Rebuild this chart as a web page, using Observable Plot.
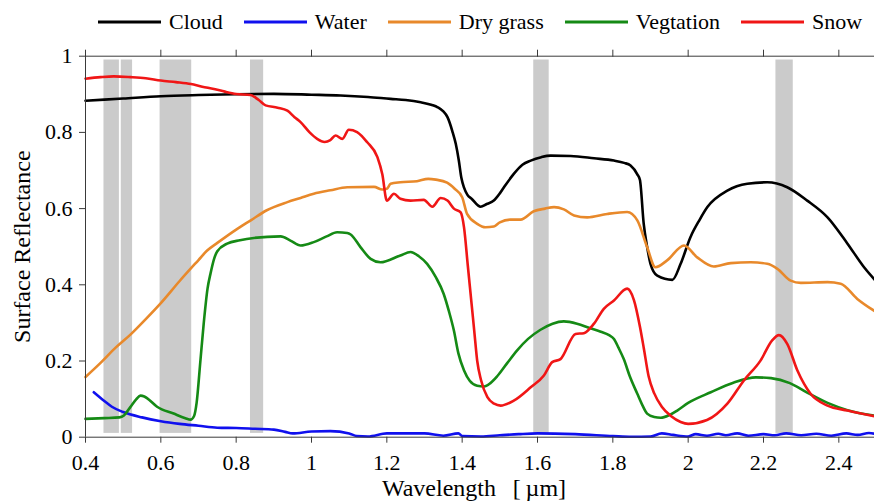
<!DOCTYPE html>
<html><head><meta charset="utf-8">
<script src="https://cdn.jsdelivr.net/npm/d3@7"></script>
<script src="https://cdn.jsdelivr.net/npm/@observablehq/plot@0.6"></script>
<style>
body{margin:0;background:#fff;width:874px;height:501px;overflow:hidden;font-family:"Liberation Serif","Times New Roman",Times,"Nimbus Roman","Nimbus Roman No9 L",FreeSerif,"Noto Serif","DejaVu Serif","Noto Serif CJK SC",serif;}
#legend{height:40px;display:flex;align-items:center;padding-left:98px;padding-top:4px;box-sizing:border-box;font-size:22px;color:#000;white-space:nowrap;}
.item{display:flex;align-items:center;margin-right:21px;}
.item svg{margin-right:8px;display:block;}
#chart svg{display:block;}
</style></head><body>
<div id="legend"></div><div id="chart"></div>
<script>
// ---- series ----
const seriesNames = ["Cloud", "Water", "Dry grass", "Vegtation", "Snow"];
const seriesColors = ["#000000", "#1010ee", "#e8892b", "#158a15", "#f01616"];

const cloudX = [0.4,0.5,0.6,0.7,0.8,0.9,1.0,1.077,1.15,1.21,1.25,1.29,1.32,1.335,1.35,1.361,1.374,1.383,1.391,1.398,1.405,1.414,1.425,1.449,1.465,1.484,1.5,1.511,1.537,1.56,1.582,1.61,1.635,1.688,1.75,1.803,1.83,1.847,1.865,1.872,1.882,1.891,1.9,1.918,1.958,1.98,2.006,2.03,2.051,2.104,2.157,2.21,2.263,2.316,2.37,2.423,2.467,2.5];
const cloudY = [0.883,0.889,0.895,0.898,0.9,0.901,0.899,0.897,0.893,0.888,0.885,0.879,0.872,0.866,0.855,0.84,0.803,0.77,0.727,0.68,0.655,0.636,0.626,0.605,0.612,0.621,0.64,0.656,0.691,0.715,0.726,0.735,0.739,0.738,0.732,0.726,0.72,0.713,0.69,0.675,0.56,0.5,0.455,0.424,0.413,0.455,0.525,0.57,0.604,0.647,0.665,0.669,0.656,0.621,0.577,0.508,0.446,0.408];

const waterX = [0.422,0.45,0.47,0.5,0.55,0.6,0.65,0.7,0.75,0.8,0.85,0.9,0.93,0.95,1.0,1.05,1.1,1.12,1.15,1.2,1.3,1.35,1.39,1.4,1.45,1.5,1.55,1.6,1.7,1.8,1.85,1.9,1.93,1.96,2.0,2.02,2.05,2.08,2.1,2.13,2.16,2.2,2.23,2.26,2.3,2.34,2.38,2.42,2.45,2.48,2.5];
const waterY = [0.118,0.095,0.08,0.066,0.052,0.042,0.035,0.03,0.025,0.024,0.022,0.02,0.014,0.01,0.015,0.016,0.01,0.003,0.002,0.01,0.01,0.004,0.01,0.003,0.002,0.005,0.008,0.01,0.008,0.003,0.001,0.002,0.01,0.006,0.002,0.008,0.004,0.009,0.005,0.01,0.004,0.008,0.005,0.01,0.005,0.009,0.004,0.01,0.006,0.011,0.008];

const grassX = [0.4,0.44,0.48,0.52,0.56,0.6,0.65,0.7,0.723,0.75,0.8,0.84,0.88,0.936,0.971,1.006,1.05,1.095,1.166,1.188,1.2,1.21,1.236,1.28,1.31,1.33,1.36,1.38,1.4,1.413,1.44,1.462,1.484,1.5,1.528,1.555,1.59,1.62,1.644,1.67,1.697,1.732,1.785,1.838,1.865,1.891,1.913,1.944,1.989,2.024,2.068,2.113,2.166,2.21,2.237,2.272,2.299,2.37,2.405,2.449,2.5];
const grassY = [0.158,0.195,0.235,0.27,0.31,0.352,0.41,0.465,0.49,0.51,0.545,0.57,0.595,0.617,0.628,0.639,0.648,0.656,0.657,0.65,0.652,0.665,0.669,0.672,0.678,0.676,0.668,0.652,0.63,0.586,0.56,0.551,0.553,0.564,0.571,0.571,0.593,0.6,0.604,0.598,0.582,0.577,0.586,0.591,0.569,0.499,0.446,0.464,0.503,0.472,0.448,0.457,0.459,0.455,0.442,0.411,0.405,0.407,0.403,0.363,0.328];

const vegX = [0.4,0.45,0.49,0.502,0.519,0.535,0.546,0.556,0.564,0.59,0.634,0.665,0.679,0.688,0.695,0.705,0.714,0.724,0.732,0.742,0.75,0.776,0.81,0.847,0.918,0.944,0.971,1.006,1.04,1.068,1.095,1.104,1.13,1.157,1.183,1.236,1.263,1.285,1.307,1.33,1.351,1.365,1.378,1.39,1.405,1.42,1.44,1.458,1.475,1.493,1.52,1.546,1.575,1.608,1.64,1.67,1.705,1.74,1.768,1.79,1.803,1.815,1.829,1.845,1.865,1.878,1.891,1.91,1.927,1.95,1.971,2.0,2.06,2.12,2.18,2.22,2.27,2.316,2.37,2.423,2.5];
const vegY = [0.048,0.05,0.052,0.057,0.079,0.1,0.109,0.107,0.102,0.08,0.062,0.05,0.046,0.055,0.09,0.2,0.3,0.39,0.43,0.47,0.488,0.508,0.517,0.523,0.527,0.516,0.503,0.512,0.527,0.538,0.536,0.532,0.499,0.468,0.459,0.477,0.486,0.475,0.455,0.42,0.376,0.33,0.28,0.22,0.175,0.148,0.135,0.133,0.142,0.16,0.195,0.228,0.258,0.282,0.298,0.304,0.298,0.286,0.277,0.268,0.258,0.235,0.205,0.16,0.114,0.085,0.062,0.053,0.051,0.058,0.07,0.09,0.118,0.143,0.157,0.155,0.142,0.117,0.09,0.071,0.056];

const snowX = [0.4,0.44,0.475,0.52,0.56,0.6,0.64,0.68,0.71,0.741,0.77,0.8,0.838,0.86,0.878,0.91,0.936,0.955,0.971,0.995,1.015,1.035,1.05,1.064,1.082,1.099,1.121,1.148,1.175,1.188,1.2,1.219,1.236,1.263,1.298,1.321,1.343,1.361,1.378,1.396,1.405,1.415,1.425,1.432,1.44,1.45,1.467,1.485,1.502,1.537,1.582,1.617,1.639,1.661,1.701,1.723,1.75,1.776,1.803,1.838,1.856,1.872,1.882,1.895,1.91,1.93,1.955,1.98,2.0,2.05,2.104,2.148,2.192,2.223,2.241,2.263,2.29,2.325,2.37,2.423,2.5];
const snowY = [0.941,0.945,0.947,0.945,0.942,0.936,0.932,0.927,0.92,0.914,0.907,0.901,0.898,0.885,0.871,0.865,0.857,0.84,0.827,0.8,0.783,0.775,0.78,0.792,0.783,0.807,0.801,0.774,0.735,0.69,0.621,0.639,0.626,0.621,0.623,0.605,0.628,0.621,0.6,0.59,0.55,0.45,0.35,0.28,0.2,0.15,0.105,0.088,0.083,0.096,0.131,0.162,0.197,0.205,0.271,0.273,0.298,0.337,0.359,0.39,0.36,0.29,0.235,0.16,0.115,0.08,0.055,0.04,0.035,0.045,0.088,0.149,0.201,0.254,0.268,0.245,0.175,0.114,0.083,0.07,0.054];

// ---- shaded bands (µm) ----
const bandLo = [0.449, 0.495, 0.598, 0.838, 1.590, 2.233];
const bandHi = [0.490, 0.525, 0.682, 0.873, 1.631, 2.279];
const bandSpan = [0.01, 0.99];

// ---- ticks ----
const xTicks = [0.4,0.6,0.8,1,1.2,1.4,1.6,1.8,2,2.2,2.4];
const yTicks = [0,0.2,0.4,0.6,0.8,1];
const xLabel = "Wavelength\u2002\u2009[\u2009\u00b5m]";
const yLabel = "Surface Reflectance";

const seriesX = [cloudX, waterX, grassX, vegX, snowX];
const seriesY = [cloudY, waterY, grassY, vegY, snowY];
const rows = [];
seriesNames.forEach((name, i) => seriesX[i].forEach((x, j) => rows.push({name, wl: x, r: seriesY[i][j]})));
const bands = bandLo.map((lo, i) => ({lo, hi: bandHi[i]}));
const fmt = d => String(+d.toFixed(1));

// legend
const leg = document.getElementById("legend");
seriesNames.forEach((n, i) => {
  const it = document.createElement("div");
  it.className = "item";
  it.innerHTML = `<svg width="63" height="6"><line x1="0" y1="3" x2="63" y2="3" stroke="${seriesColors[i]}" stroke-width="3"/></svg><span>${n}</span>`;
  leg.appendChild(it);
});

const axisColor = "#3a3a3a";
const serif = "'Liberation Serif','Times New Roman',Times,'Nimbus Roman','Nimbus Roman No9 L',FreeSerif,'Noto Serif','DejaVu Serif','Noto Serif CJK SC',serif";
const chart = Plot.plot({
  width: 874,
  height: 461,
  marginLeft: 85,
  marginRight: -2,
  marginTop: 15.7,
  marginBottom: 64.3,
  style: {fontFamily: serif, fontSize: "22px", background: "white", color: "#000", overflow: "visible"},
  x: {domain: [0.4, 2.5]},
  y: {domain: [0, 1]},
  color: {domain: seriesNames, range: seriesColors},
  marks: [
    Plot.rect(bands, {x1: "lo", x2: "hi", y1: bandSpan[0], y2: bandSpan[1], fill: "#cbcbcb"}),
    Plot.line(rows, {x: "wl", y: "r", z: "name", stroke: "name", strokeWidth: 2.6, curve: "monotone-x"}),
    Plot.ruleY([0, 1], {stroke: axisColor, strokeWidth: 1}),
    Plot.ruleX([0.4], {stroke: axisColor, strokeWidth: 1}),
    Plot.axisX({anchor: "bottom", ticks: xTicks, tickSize: 6, tickPadding: 11, tickFormat: fmt, label: null, stroke: axisColor, fontSize: 22, fontFamily: serif}),
    Plot.axisX({anchor: "top", ticks: xTicks, tickSize: 7, tickFormat: () => "", label: null, stroke: axisColor}),
    Plot.axisY({anchor: "left", ticks: yTicks, tickSize: 6, tickPadding: 7, tickFormat: fmt, label: null, stroke: axisColor, fontSize: 22, fontFamily: serif}),
    Plot.text([xLabel], {frameAnchor: "bottom", lineAnchor: "bottom", textAnchor: "middle", dy: 59, dx: -7, fontSize: 24, fill: "#000", fontFamily: serif}),
    Plot.text([yLabel], {frameAnchor: "left", lineAnchor: "top", textAnchor: "middle", rotate: -90, dx: -73, fontSize: 24, fill: "#000", fontFamily: serif})
  ]
});
document.getElementById("chart").appendChild(chart);
</script>
</body></html>
